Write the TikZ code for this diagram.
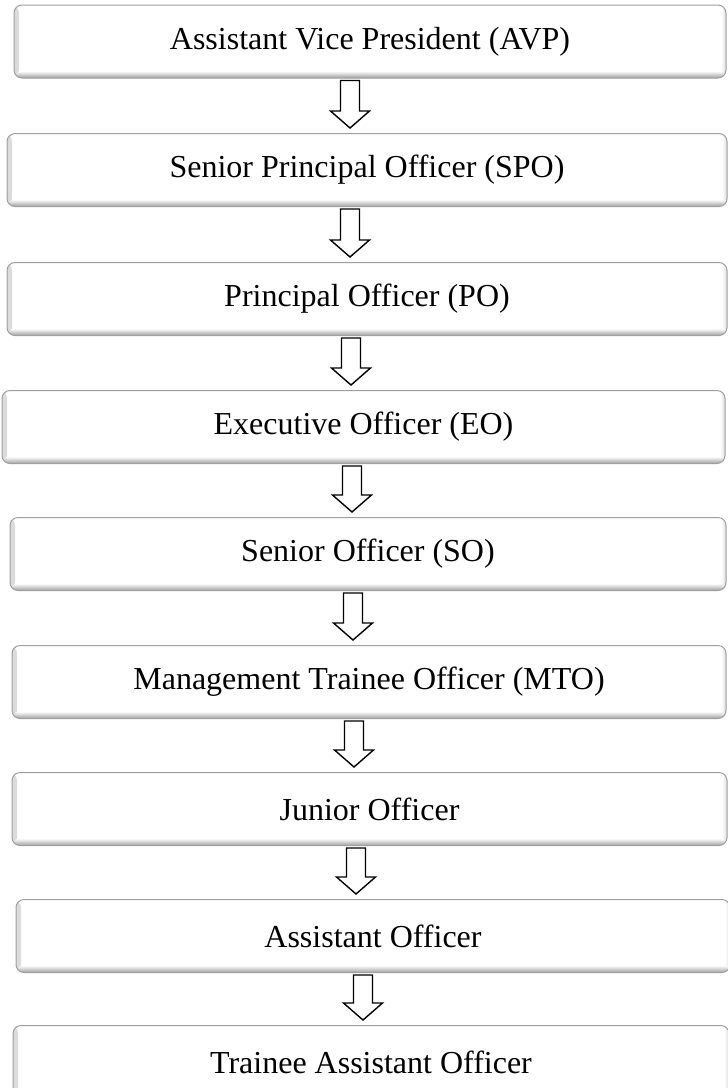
\documentclass[tikz,border=0pt]{standalone}
\usepackage{fontspec}
\setmainfont{Liberation Serif}
\usetikzlibrary{calc}
\tikzset{
  box/.style={rounded corners=8pt, fill=white, draw=gray!75, line width=1pt,
    inner sep=0pt, minimum height=73pt, font=\fontsize{32}{38}\selectfont,
    path picture={
      \shade[left color=gray!28, right color=white]
        (path picture bounding box.south west) rectangle ([xshift=5pt]path picture bounding box.north west);
      \shade[right color=gray!28, left color=white]
        ([xshift=-5pt]path picture bounding box.south east) rectangle (path picture bounding box.north east);
      \shade[top color=white, bottom color=gray!75]
        (path picture bounding box.south west) rectangle ([yshift=7pt]path picture bounding box.south east);
    }},
  barrow/.style={draw=black, line width=1.4pt, fill=white, line join=miter}
}
\newcommand{\blockarr}[3]{%
  \draw[barrow] let \p1=(#1.south), \p2=(#2.north) in
    (#3-9.5,\y1-2) -- (#3+9.5,\y1-2) -- (#3+9.5,\y2+22) -- (#3+19.5,\y2+22)
    -- (#3,\y2+5) -- (#3-19.5,\y2+22) -- (#3-9.5,\y2+22) -- cycle;}
\begin{document}
\begin{tikzpicture}[x=1pt,y=1pt]
\useasboundingbox (0,0) rectangle (728,-1088);
\node[box, minimum width=712pt] (b1) at (370,-41.5) {Assistant Vice President (AVP)};
\node[box, minimum width=720pt] (b2) at (367,-170) {Senior Principal Officer (SPO)};
\node[box, minimum width=720pt] (b3) at (367,-299) {Principal Officer (PO)};
\node[box, minimum width=723pt] (b4) at (363.5,-427) {Executive Officer (EO)};
\node[box, minimum width=716pt] (b5) at (368,-554) {Senior Officer (SO)};
\node[box, minimum width=714pt] (b6) at (369,-682) {Management Trainee Officer (MTO)};
\node[box, minimum width=715pt] (b7) at (369.5,-809) {Junior Officer};
\node[box, minimum width=714pt] (b8) at (373,-936) {Assistant Officer};
\node[box, minimum width=716pt] (b9) at (371,-1062) {Trainee Assistant Officer};
\blockarr{b1}{b2}{350}
\blockarr{b2}{b3}{350}
\blockarr{b3}{b4}{351}
\blockarr{b4}{b5}{352}
\blockarr{b5}{b6}{353}
\blockarr{b6}{b7}{354}
\blockarr{b7}{b8}{356}
\blockarr{b8}{b9}{363}
\end{tikzpicture}
\end{document}
